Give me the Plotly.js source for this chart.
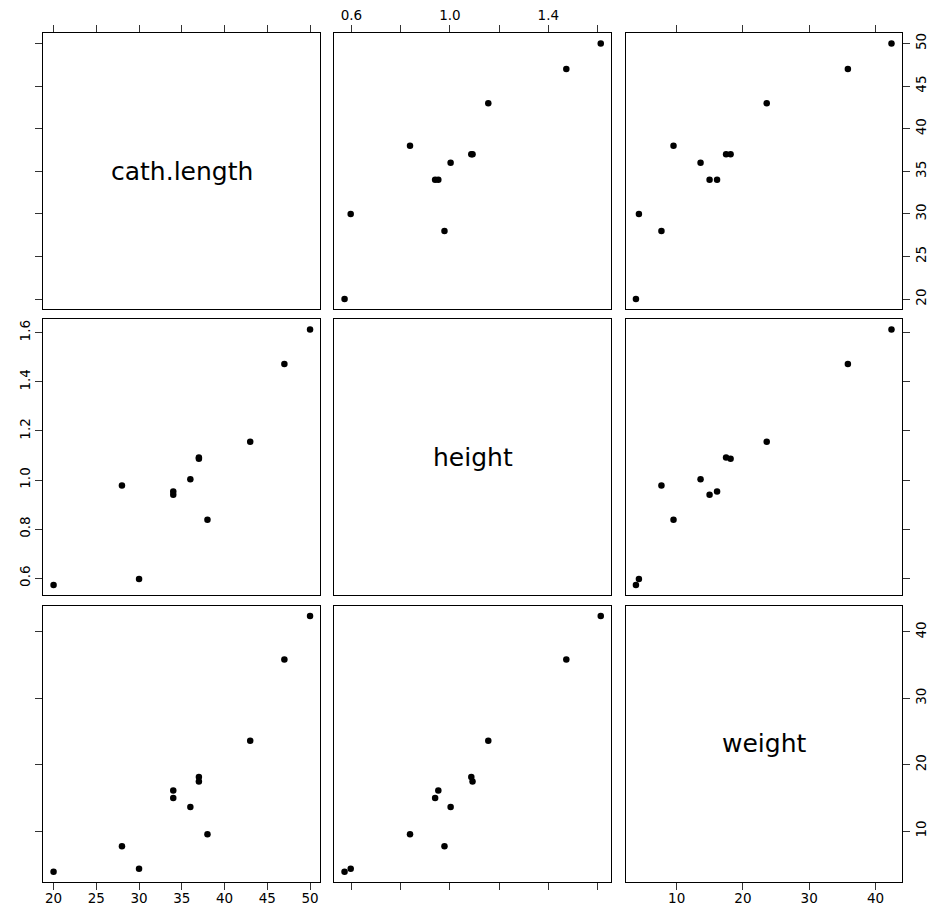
<!DOCTYPE html>
<html>
<head>
<meta charset="utf-8">
<script src="https://cdn.plot.ly/plotly-3.0.1.min.js"></script>
<style>html,body{margin:0;padding:0;background:#fff;}#plot{width:933px;height:905px;}</style>
</head>
<body>
<div id="plot"></div>
<script>
// Variables (12 children)
const varNames = ["cath.length", "height", "weight"];
const cathLength = [37, 50, 34, 36, 43, 28, 37, 20, 34, 30, 38, 47];
const height = [1.087, 1.613, 0.953, 1.003, 1.156, 0.978, 1.092, 0.572, 0.940, 0.597, 0.838, 1.473];
const weight = [18.14, 42.41, 16.10, 13.61, 23.59, 7.71, 17.46, 3.86, 14.97, 4.31, 9.53, 35.83];

const cathTicks = [20, 25, 30, 35, 40, 45, 50];
const cathLabels = ["20", "25", "30", "35", "40", "45", "50"];
const heightTicks = [0.6, 0.8, 1.0, 1.2, 1.4, 1.6];
const heightLabelsLeft = ["0.6", "0.8", "1.0", "1.2", "1.4", "1.6"];
const heightLabelsTop = ["0.6", "", "1.0", "", "1.4", ""];
const weightTicks = [10, 20, 30, 40];
const weightLabels = ["10", "20", "30", "40"];

const data = [cathLength, height, weight];
const tickVals = [cathTicks, heightTicks, weightTicks];
const xLabelSets = [cathLabels, heightLabelsTop, weightLabels];
const yLabelSets = [cathLabels, heightLabelsLeft, weightLabels];

function rng(a) {
  const mn = Math.min(...a), mx = Math.max(...a), d = (mx - mn) * 0.04;
  return [mn - d, mx + d];
}

const W = 933, H = 905;
const colPx = [[43.3, 320.3], [334.3, 611], [625.7, 901.7]];
const rowPx = [[33.3, 309.3], [319.3, 595.3], [605.7, 882]];
const FONT = "DejaVu Sans, Liberation Sans, Arial, sans-serif";

const traces = [];
const layout = {
  width: W, height: H,
  margin: {l: 0, r: 0, t: 0, b: 0},
  paper_bgcolor: "#fff", plot_bgcolor: "#fff",
  showlegend: false,
  font: {family: FONT, size: 14, color: "#000"},
  annotations: []
};

let k = 0;
for (let r = 0; r < 3; r++) {
  for (let c = 0; c < 3; c++) {
    k++;
    const xa = "xaxis" + (k === 1 ? "" : k), ya = "yaxis" + (k === 1 ? "" : k);
    const xr = "x" + (k === 1 ? "" : k), yr = "y" + (k === 1 ? "" : k);
    const xd = [colPx[c][0] / W, colPx[c][1] / W];
    const yd = [1 - rowPx[r][1] / H, 1 - rowPx[r][0] / H];

    const xAxis = {
      domain: xd, anchor: yr, range: rng(data[c]),
      showgrid: false, zeroline: false,
      showline: true, mirror: true, linecolor: "#000", linewidth: 1,
      tickvals: tickVals[c], ticktext: xLabelSets[c].map(() => ""),
      ticks: "", ticklen: 7, tickcolor: "#333", tickwidth: 1,
      tickfont: {family: FONT, size: 13.5, color: "#000"},
      fixedrange: true
    };
    if (r === 0) {
      xAxis.side = "top"; xAxis.ticks = "outside";
      if (c === 1) xAxis.ticktext = xLabelSets[c];
    } else if (r === 2) {
      xAxis.side = "bottom"; xAxis.ticks = "outside";
      xAxis.ticklabelstandoff = -3;
      if (c !== 1) xAxis.ticktext = xLabelSets[c];
    }
    layout[xa] = xAxis;

    const yAxis = {
      domain: yd, anchor: xr, range: rng(data[r]),
      showgrid: false, zeroline: false,
      showline: true, mirror: true, linecolor: "#000", linewidth: 1,
      tickvals: tickVals[r], ticktext: yLabelSets[r].map(() => ""),
      ticks: "", ticklen: 7, tickcolor: "#333", tickwidth: 1,
      tickangle: -90,
      tickfont: {family: FONT, size: 13.5, color: "#000"},
      fixedrange: true
    };
    if (c === 0) {
      yAxis.side = "left"; yAxis.ticks = "outside";
      if (r === 1) yAxis.ticktext = yLabelSets[r];
    } else if (c === 2) {
      yAxis.side = "right"; yAxis.ticks = "outside";
      if (r !== 1) yAxis.ticktext = yLabelSets[r];
    }
    layout[ya] = yAxis;

    if (r === c) {
      layout.annotations.push({
        xref: xr + " domain", yref: yr + " domain", x: 0.5, y: 0.5,
        text: varNames[r], showarrow: false,
        font: {family: FONT, size: 25, color: "#000"},
        xanchor: "center", yanchor: "middle"
      });
      traces.push({x: [], y: [], xaxis: xr, yaxis: yr, type: "scatter", mode: "markers"});
    } else {
      traces.push({
        x: data[c], y: data[r], xaxis: xr, yaxis: yr,
        type: "scatter", mode: "markers",
        marker: {symbol: "circle", size: 6.5, color: "#000"},
        hoverinfo: "x+y", cliponaxis: false
      });
    }
  }
}

Plotly.newPlot("plot", traces, layout, {displayModeBar: false, staticPlot: true});
</script>
</body>
</html>
